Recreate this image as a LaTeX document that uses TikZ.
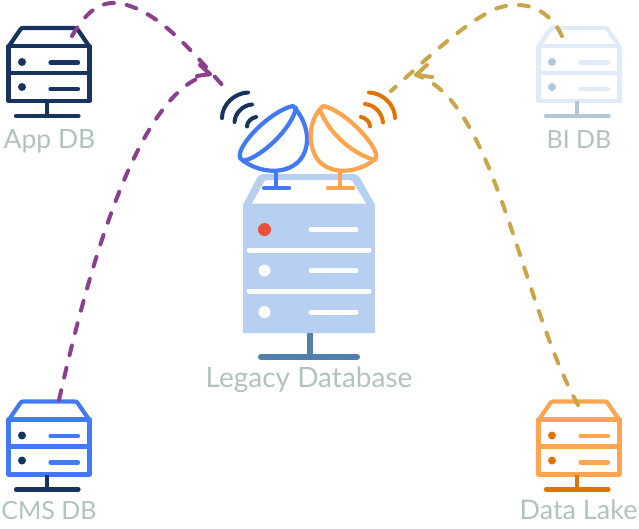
\documentclass[tikz,border=0pt]{standalone}
\usepackage{fontspec}
\setmainfont{Lato}
\definecolor{navy}{HTML}{17345F}
\definecolor{blue}{HTML}{4279F7}
\definecolor{pale}{HTML}{E0EAF8}
\definecolor{paled}{HTML}{B2C6DC}
\definecolor{orng}{HTML}{FFA550}
\definecolor{orngd}{HTML}{DF7305}
\definecolor{legacy}{HTML}{B7CFF0}
\definecolor{legacyd}{HTML}{5280AE}
\definecolor{txt}{HTML}{B2C2BE}
\definecolor{purp}{HTML}{8A3F8F}
\definecolor{gold}{HTML}{C9A64A}
\definecolor{reddot}{HTML}{E8503A}
\tikzset{
  lab/.style={anchor=base,text=txt,inner sep=0pt,font=\fontsize{26.5}{26.5}\selectfont},
  icon/.style={line width=4.2pt,line cap=round,line join=round},
  wave/.style={line width=4pt,line cap=round},
  dish/.style={line width=4.2pt,line cap=round,line join=round},
  link/.style={line width=4pt,line cap=round,dash pattern=on 10pt off 13pt},
  tip/.style={line width=4pt,line cap=round,line join=round}
}
% #1 dx, #2 dy, #3 outline, #4 detail (dots, stem)
\newcommand{\serverIcon}[4]{%
  \begin{scope}[shift={(#1,#2)}]
    \draw[icon,#3] (9,46) -- (20,30) .. controls (21,28) and (22,28) .. (24,28) -- (74,28) .. controls (76,28) and (77,28) .. (78,30) -- (89,46);
    \draw[icon,#3] (8.5,46) -- (89.5,46) -- (89.5,101) -- (8.5,101) -- cycle;
    \draw[icon,#3] (8.5,73) -- (89.5,73);
    \fill[#4] (22,62) circle (4);
    \fill[#4] (22,87) circle (4);
    \draw[icon,#3] (50.5,62.5) -- (78,62.5);
    \draw[icon,#3] (50.5,89) -- (78,89);
    \draw[icon,#4,line cap=butt] (47,101) -- (47,116);
    \draw[icon,#4] (16,116) -- (78.5,116);
  \end{scope}}
\begin{document}
\begin{tikzpicture}[x=1pt,y=-1pt]
\useasboundingbox (0,0) rectangle (639,528);
% servers
\serverIcon{0}{0}{navy}{navy}
\serverIcon{0}{373.5}{blue}{navy}
\serverIcon{530}{0}{pale}{paled}
\serverIcon{530}{373.5}{orng}{orngd}
\node[lab] (appl) at (49.5,148) {App DB};
\node[lab,font=\fontsize{25}{25}\selectfont] (cmsl) at (49,519) {CMS DB};
\node[lab,font=\fontsize{25}{25}\selectfont] (bil) at (579,148) {BI DB};
\node[lab,font=\fontsize{27}{27}\selectfont] (lakel) at (578.5,519) {Data Lake};
% legacy server
\fill[legacy] (243,205) -- (243,333) -- (375,333) -- (375,205) -- (360,178) .. controls (358,175) and (356,174) .. (353,174) -- (264,174) .. controls (261,174) and (259,175) .. (257,178) -- cycle;
\fill[white] (252,203.5) -- (263,184) .. controls (264,181) and (265,180) .. (268,180) -- (349,180) .. controls (352,180) and (353,181) .. (354,184) -- (366,203.5) -- cycle;
\foreach \yy in {250,291} \draw[line width=5pt,line cap=round,white] (249,\yy) -- (369,\yy);
\foreach \yy in {229.5,270.5,312} \draw[line width=5pt,line cap=round,white] (311,\yy) -- (356,\yy);
\fill[reddot] (264.5,229.5) circle (6.5);
\fill[white] (264.5,270.5) circle (6);
\fill[white] (264.5,312) circle (6);
\draw[line width=6pt,legacyd] (309.5,333) -- (309.5,355);
\draw[line width=6pt,line cap=round,legacyd] (261,357) -- (357,357);
\node[lab,font=\fontsize{28}{28}\selectfont] (legacyl) at (309,387) {Legacy Database};
% dishes
\draw[dish,blue] (276,170) -- (276,188) (264,188) -- (289,188);
\draw[dish,blue,fill=white] (293,106) .. controls (272,110) and (236,145) .. (240,158) .. controls (255,172) and (285,177) .. (300,160) .. controls (312,145) and (308,122) .. (293,106) -- cycle;
\draw[dish,blue] (243,161) .. controls (262,157) and (292,128) .. (296,108);
\draw[dish,orng] (340,172) -- (340,188) (328,188) -- (353,188);
\draw[dish,orng,fill=white] (323,106) .. controls (345,110) and (380,148) .. (376,158) .. controls (362,172) and (332,177) .. (318,160) .. controls (307,145) and (308,120) .. (323,106) -- cycle;
\draw[dish,orng] (321,112) .. controls (330,135) and (355,155) .. (375,160);
% waves
\draw[wave,navy] (222,118) .. controls (222,105) and (234,93) .. (248,92.5);
\draw[wave,navy] (234.5,122) .. controls (235,113) and (243,105) .. (252,104.5);
\draw[wave,navy] (247,126.5) .. controls (247,122) and (251,118) .. (256,117);
\draw[wave,orngd] (369,92.5) .. controls (383,93) and (395,105) .. (395,118);
\draw[wave,orngd] (365,104) .. controls (375,105) and (382,113) .. (383,122.5);
\draw[wave,orngd] (361,117) .. controls (366,118) and (370,122) .. (370,126.5);
% connector anchors
\coordinate (appStart) at (72,36);
\coordinate (appEnd) at (225,88);
\coordinate (cmsStart) at (59,400);
\coordinate (hubL) at (210,74);
\coordinate (biStart) at (562,36);
\coordinate (biEnd) at (391,91);
\coordinate (lakeStart) at (578,405);
\coordinate (hubR) at (416,75);
% connectors
\draw[link,purp] (appStart) .. controls (88,8) and (105,-3) .. (130,6) .. controls (165,18) and (195,55) .. (appEnd);
\draw[link,purp] (cmsStart) .. controls (88,272) and (137,90) .. (hubL);
\draw[tip,purp] (200,65) -- (hubL) -- (197,76);
\draw[link,gold] (biStart) .. controls (550,10) and (525,-2) .. (495,9) .. controls (460,25) and (415,70) .. (biEnd);
\draw[link,gold] (lakeStart) .. controls (520,300) and (495,100) .. (hubR);
\draw[tip,gold] (427,65) -- (hubR) -- (432,77);
\end{tikzpicture}
\end{document}
